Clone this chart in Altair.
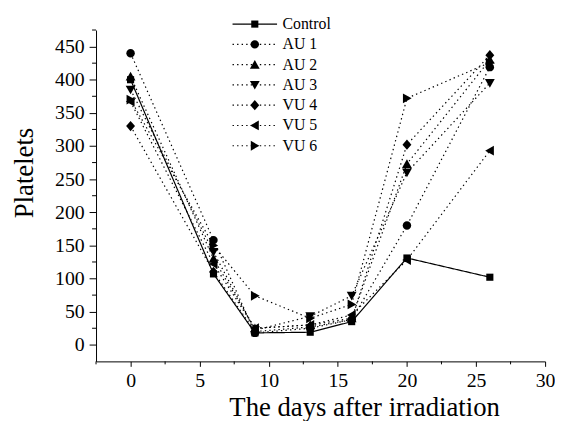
import altair as alt
import pandas as pd

# ---- data ----
days = [0, 6, 9, 13, 16, 20, 26]
series_names = ["Control", "AU 1", "AU 2", "AU 3", "VU 4", "VU 5", "VU 6"]
control = [400, 107, 18, 19, 35, 131, 102]
au1 = [440, 158, 18, 25, 38, 180, 419]
au2 = [405, 130, 25, 30, 40, 273, 430]
au3 = [385, 140, 22, 43, 74, 260, 395]
vu4 = [330, 110, 20, 27, 38, 302, 437]
vu5 = [367, 122, 25, 30, 45, 128, 293]
vu6 = [370, 150, 74, 40, 61, 372, 426]

x_major_ticks = [0, 5, 10, 15, 20, 25, 30]
x_minor_ticks = [-2.5, 2.5, 7.5, 12.5, 17.5, 22.5, 27.5]
y_major_ticks = [0, 50, 100, 150, 200, 250, 300, 350, 400, 450]
y_minor_ticks = [25, 75, 125, 175, 225, 275, 325, 375, 425, 475]

all_values = [control, au1, au2, au3, vu4, vu5, vu6]
rows = []
for name, vals in zip(series_names, all_values):
    for d, v in zip(days, vals):
        rows.append({"day": d, "value": v, "series": name})
df = pd.DataFrame(rows)

# ---- marker shapes (unit coordinates, scaled by symbol size) ----
square = "M-0.8,-0.8L0.8,-0.8L0.8,0.8L-0.8,0.8Z"
circle = "M-0.95,0A0.95,0.95 0 1,0 0.95,0A0.95,0.95 0 1,0 -0.95,0Z"
tri_up = "M0,-1.05L1.1,0.9L-1.1,0.9Z"
tri_down = "M0,1.05L1.1,-0.9L-1.1,-0.9Z"
diamond = "M0,-1.15L1.0,0L0,1.15L-1.0,0Z"
tri_left = "M-1.05,0L0.9,-1.1L0.9,1.1Z"
tri_right = "M1.05,0L-0.9,-1.1L-0.9,1.1Z"
markers = [square, circle, tri_up, tri_down, diamond, tri_left, tri_right]
legend_line = "M-5,0L5,0"

dashes = [[1, 0]] + [[1.4, 3.2]] * 6

FONT = "Liberation Serif"
W, H = 454, 335

x_scale = alt.Scale(domain=[-2.5, 30], nice=False, zero=False)
y_scale = alt.Scale(domain=[-25, 475], nice=False, zero=False)

x_axis = alt.Axis(values=x_major_ticks, format="d", labelOverlap=False, labelFlush=False,
                  tickSize=5, title="The days after irradiation",
                  titleX=271, titleY=55, titleBaseline="alphabetic",
                  titleAnchor="start", titleAlign="center",
                  labelPadding=4, grid=False)
y_axis = alt.Axis(values=y_major_ticks, format="d", labelOverlap=False, labelFlush=False,
                  tickSize=7, title="Platelets",
                  titleX=-64, titleY=144, titleBaseline="alphabetic",
                  titleAlign="center", titleAngle=270,
                  labelPadding=5, grid=False)

lines = alt.Chart(df).mark_line(color="black", strokeWidth=1.2).encode(
    x=alt.X("day:Q", scale=x_scale, axis=x_axis),
    y=alt.Y("value:Q", scale=y_scale, axis=y_axis),
    detail="series:N",
    strokeDash=alt.StrokeDash(
        "series:N", scale=alt.Scale(domain=series_names, range=dashes),
        legend=alt.Legend(title=None, orient="none", legendX=152.5, legendY=-14,
                          labelFont=FONT, labelFontSize=16, labelColor="black",
                          labelOffset=20, rowPadding=4.5, symbolSize=81,
                          symbolType=legend_line, symbolStrokeWidth=1.2,
                          symbolStrokeColor="black")),
)

points = alt.Chart(df).mark_point(filled=True, color="black", opacity=1, size=81).encode(
    x=alt.X("day:Q", scale=x_scale, axis=x_axis),
    y=alt.Y("value:Q", scale=y_scale, axis=y_axis),
    shape=alt.Shape("series:N", scale=alt.Scale(domain=series_names, range=markers), legend=None),
)

legend_markers = alt.Chart(df).transform_filter("false").mark_point(
    filled=True, color="black", opacity=1, size=81
).encode(
    x=alt.X("day:Q", scale=x_scale, axis=x_axis),
    y=alt.Y("value:Q", scale=y_scale, axis=y_axis),
    shape=alt.Shape("series:N", scale=alt.Scale(domain=series_names, range=markers),
                    legend=alt.Legend(title=None, orient="none", legendX=152.5, legendY=-14,
                                      labelFont=FONT, labelFontSize=16, labelOpacity=0,
                                      labelOffset=20, rowPadding=4.5, symbolSize=81,
                                      symbolFillColor="black", symbolStrokeWidth=0)),
)

x_minor = alt.Chart(pd.DataFrame({"day": x_minor_ticks})).mark_rule(color="black", strokeWidth=1).encode(
    x=alt.X("day:Q", scale=x_scale, axis=x_axis),
    y=alt.value(H), y2=alt.value(H + 3),
)
y_minor = alt.Chart(pd.DataFrame({"value": y_minor_ticks})).mark_rule(color="black", strokeWidth=1).encode(
    y=alt.Y("value:Q", scale=y_scale, axis=y_axis),
    x=alt.value(-4), x2=alt.value(0),
)

chart = alt.layer(lines, points, legend_markers, x_minor, y_minor).resolve_scale(
    shape="independent"
).properties(
    width=W, height=H, autosize="none",
    padding={"left": 89, "top": 20, "right": 10, "bottom": 58},
).configure_view(stroke=None).configure_axis(
    labelFont=FONT, labelFontSize=20, labelColor="black",
    titleFont=FONT, titleFontSize=27, titleFontWeight="normal", titleColor="black",
    domainColor="black", tickColor="black", domainWidth=1, tickWidth=1,
)

chart.save("out.html", embed_options={"renderer": "svg", "actions": False})
